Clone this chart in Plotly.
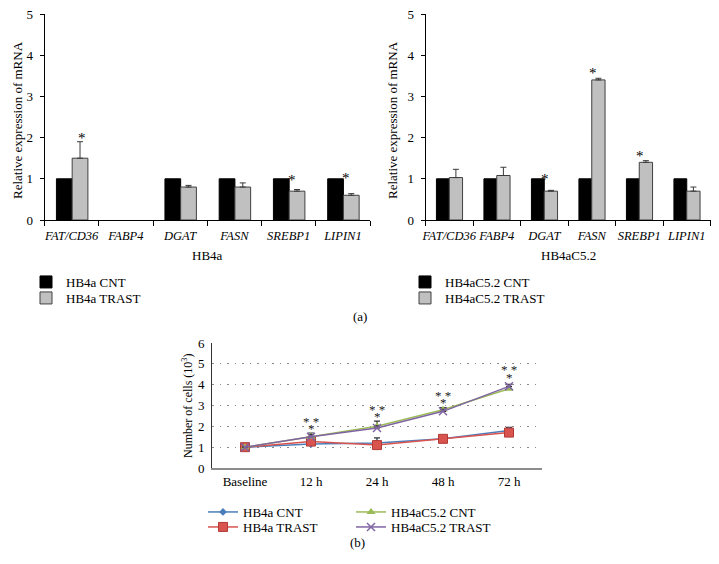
import plotly.graph_objects as go

# The page body has an 8px margin, so the figure is drawn 8px in from the window edge.
WIN_W, WIN_H = 719, 564
OFF = 8
W, H = WIN_W - OFF, WIN_H - OFF

# ---------------- data ----------------
genes = ["FAT/CD36", "FABP4", "DGAT", "FASN", "SREBP1", "LIPIN1"]

hb4a_cnt = [1.0, None, 1.0, 1.0, 1.0, 1.0]
hb4a_trast = [1.5, None, 0.8, 0.8, 0.7, 0.6]
hb4a_trast_err = [0.4, 0, 0.04, 0.1, 0.04, 0.04]

c52_cnt = [1.0, 1.0, 1.0, 1.0, 1.0, 1.0]
c52_trast = [1.03, 1.08, 0.7, 3.4, 1.4, 0.7]
c52_trast_err = [0.2, 0.2, 0.02, 0.04, 0.04, 0.1]

# significance stars (gene, y-level)
hb4a_star_genes = ["FAT/CD36", "SREBP1", "LIPIN1"]
hb4a_star_y = [2.06, 1.05, 1.09]
c52_star_genes = ["DGAT", "FASN", "SREBP1"]
c52_star_y = [1.07, 3.64, 1.63]

times = ["Baseline", "12 h", "24 h", "48 h", "72 h"]
cells_hb4a_cnt = [1.0, 1.15, 1.2, 1.4, 1.8]
cells_hb4a_trast = [1.0, 1.27, 1.1, 1.4, 1.7]
cells_c52_cnt = [1.0, 1.5, 2.0, 2.8, 3.8]
cells_c52_trast = [1.0, 1.5, 1.92, 2.72, 3.92]
err_hb4a_cnt = [0, 0.05, 0.25, 0.15, 0.15]
err_hb4a_trast = [0, 0.05, 0.05, 0.1, 0.1]
err_c52_cnt = [0, 0.18, 0.25, 0.1, 0.1]
err_c52_trast = [0, 0.1, 0.1, 0.1, 0.1]

star_times = ["12 h", "24 h", "48 h", "72 h"]
double_star_y = [2.39, 2.95, 3.64, 4.87]
single_star_y = [2.02, 2.63, 3.27, 4.47]

# ---------------- helpers ----------------
FONT = "Liberation Serif"
def px_x(p):  # window pixel -> paper fraction
    return (p - OFF) / W
def px_y(p):
    return 1 - (p - OFF) / H

fig = go.Figure()

def err(arr):
    return dict(type="data", array=arr, arrayminus=[0] * len(arr), symmetric=False,
                color="#3a3a3a", thickness=1, width=3)

# left bar chart
fig.add_trace(go.Bar(x=genes, y=hb4a_cnt, name="HB4a CNT", xaxis="x", yaxis="y",
                     offset=-0.28, width=0.29,
                     marker=dict(color="black", line=dict(color="black", width=1)),
                     legend="legend"))
fig.add_trace(go.Bar(x=genes, y=hb4a_trast, name="HB4a TRAST", xaxis="x", yaxis="y",
                     offset=0.01, width=0.29,
                     marker=dict(color="#c0c0c0", line=dict(color="#404040", width=1)),
                     error_y=err(hb4a_trast_err), legend="legend2"))
# right bar chart
fig.add_trace(go.Bar(x=genes, y=c52_cnt, name="HB4aC5.2 CNT", xaxis="x2", yaxis="y2",
                     offset=-0.27, width=0.27,
                     marker=dict(color="black", line=dict(color="black", width=1)),
                     legend="legend3"))
fig.add_trace(go.Bar(x=genes, y=c52_trast, name="HB4aC5.2 TRAST", xaxis="x2", yaxis="y2",
                     offset=0.0, width=0.28,
                     marker=dict(color="#c0c0c0", line=dict(color="#404040", width=1)),
                     error_y=err(c52_trast_err), legend="legend4"))

# line chart
line_specs = [
    ("HB4a CNT", cells_hb4a_cnt, err_hb4a_cnt, "#4a7ebb", "diamond", 6, "legend5"),
    ("HB4a TRAST", cells_hb4a_trast, err_hb4a_trast, "#d9534f", "square", 9, "legend6"),
    ("HB4aC5.2 CNT", cells_c52_cnt, err_c52_cnt, "#9bbb59", "triangle-up", 8, "legend7"),
    ("HB4aC5.2 TRAST", cells_c52_trast, err_c52_trast, "#8064a2", "x-thin", 8, "legend8"),
]
for name, ys, e, col, sym, size, lg in line_specs:
    marker = dict(symbol=sym, size=size, color=col)
    if sym == "x-thin":
        marker["line"] = dict(color=col, width=1.5)
    elif sym == "square":
        marker["line"] = dict(color="#b03a36", width=1)
    fig.add_trace(go.Scatter(x=times, y=ys, name=name, mode="lines+markers",
                             xaxis="x3", yaxis="y3",
                             line=dict(color=col, width=1.5), marker=marker,
                             error_y=dict(type="data", array=e, arrayminus=[0] * len(e),
                                          symmetric=False, color="#333333",
                                          thickness=1.2, width=3),
                             legend=lg))

tickfont = dict(family=FONT, size=13, color="black")
bar_x = dict(type="category", tickson="boundaries", ticks="outside", ticklen=5,
             tickcolor="black", showline=True, linecolor="black", linewidth=1,
             range=[-0.5, 5.5], showgrid=False, zeroline=False, tickangle=0,
             automargin=False, ticklabeloverflow="allow", ticklabelstandoff=4,
             tickfont=dict(family=FONT, size=12.5, color="black", style="italic"))
bar_y = dict(range=[0, 5], dtick=1, ticks="outside", ticklen=4, tickcolor="black",
             showline=True, linecolor="black", linewidth=1, showgrid=False,
             zeroline=False, tickfont=tickfont, ticklabelstandoff=4, automargin=False,
             ticklabeloverflow="allow")

annotations = []
for g, yv in zip(hb4a_star_genes, hb4a_star_y):
    annotations.append(dict(x=g, y=yv, xref="x", yref="y", text="*", showarrow=False,
                            xshift=10 if g == "FAT/CD36" else 3, yshift=-3,
                            font=dict(family=FONT, size=15, color="black")))
for g, yv in zip(c52_star_genes, c52_star_y):
    annotations.append(dict(x=g, y=yv, xref="x2", yref="y2", text="*", showarrow=False,
                            xshift=1, yshift=-3,
                            font=dict(family=FONT, size=15, color="black")))
for t, y2, y1 in zip(star_times, double_star_y, single_star_y):
    annotations.append(dict(x=t, y=y2, xref="x3", yref="y3", text="* *", showarrow=False,
                            yshift=-3, font=dict(family=FONT, size=13, color="#222")))
    annotations.append(dict(x=t, y=y1, xref="x3", yref="y3", text="*", showarrow=False,
                            yshift=-3, font=dict(family=FONT, size=13, color="#222")))

def txt(x, y, s, size=13, angle=0):
    return dict(x=px_x(x), y=px_y(y), xref="paper", yref="paper", text=s,
                showarrow=False, textangle=angle, xanchor="center", yanchor="middle",
                font=dict(family=FONT, size=size, color="black"))

annotations += [
    txt(207, 255, "HB4a"),
    txt(568, 255, "HB4aC5.2"),
    txt(18, 120, "Relative expression of mRNA", 13, -90),
    txt(393, 120, "Relative expression of mRNA", 13, -90),
    txt(187, 406, "Number of cells (10<sup>3</sup>)", 12, -90),
    txt(360, 316, "(a)"),
    txt(357, 542, "(b)"),
]

legfont = dict(family=FONT, size=13, color="black")
def leg(x, y):
    return dict(x=px_x(x), y=px_y(y), xanchor="left", yanchor="middle",
                font=legfont, bgcolor="rgba(0,0,0,0)", borderwidth=0,
                tracegroupgap=0, itemwidth=30)

fig.update_layout(
    width=W, height=H,
    margin=dict(l=0, r=0, t=0, b=0, autoexpand=False),
    paper_bgcolor="white", plot_bgcolor="white",
    barmode="overlay",
    font=dict(family=FONT, size=13, color="black"),
    xaxis=dict(domain=[px_x(44.5), px_x(370)], anchor="y", **bar_x),
    yaxis=dict(domain=[px_y(220), px_y(14)], anchor="x", **bar_y),
    xaxis2=dict(domain=[px_x(425.5), px_x(710.5)], anchor="y2", **bar_x),
    yaxis2=dict(domain=[px_y(220), px_y(14)], anchor="x2", **bar_y),
    xaxis3=dict(domain=[px_x(212), px_x(542)], anchor="y3", type="category",
                range=[-0.5, 4.5], showline=True, linecolor="#8c8c8c", linewidth=2,
                ticks="", showgrid=False, zeroline=False, automargin=False,
                tickfont=dict(family=FONT, size=13, color="black")),
    yaxis3=dict(domain=[px_y(468), px_y(343)], anchor="x3", range=[0, 6], dtick=1,
                showline=True, linecolor="#333", linewidth=1, ticks="",
                showgrid=True, gridcolor="#8a8a8a", griddash="1.5px,6px", gridwidth=1.2,
                zeroline=False, ticklabelstandoff=4, automargin=False,
                ticklabeloverflow="allow",
                tickfont=dict(family=FONT, size=13, color="black")),
    legend=leg(26, 282),
    legend2=leg(26, 298),
    legend3=leg(405, 282),
    legend4=leg(405, 298),
    legend5=leg(203, 512),
    legend6=leg(203, 527),
    legend7=leg(351, 512),
    legend8=leg(351, 527),
    annotations=annotations,
    showlegend=True,
)

fig.write_html("out.html")
